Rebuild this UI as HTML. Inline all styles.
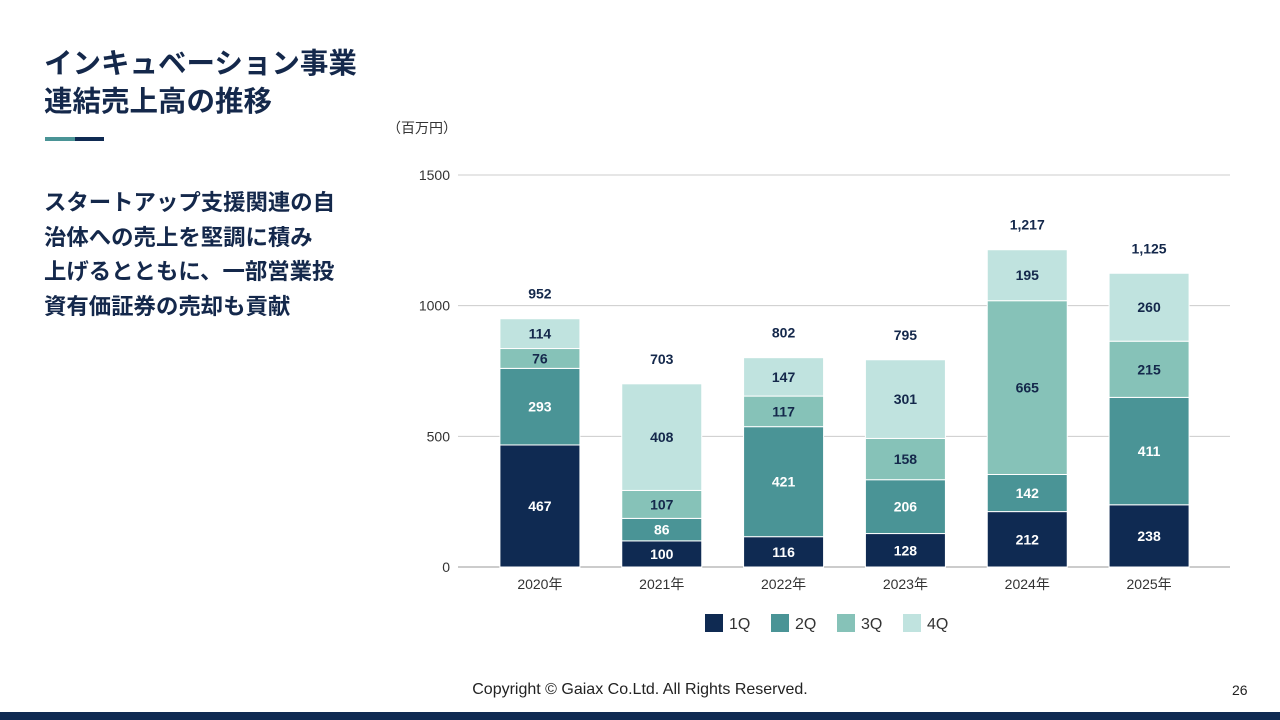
<!DOCTYPE html>
<html><head><meta charset="utf-8">
<style>
body{margin:0;width:1280px;height:720px;background:#fff;position:relative;overflow:hidden;font-family:"Liberation Sans","Noto Sans CJK JP",sans-serif;color:#14284b}
.abs{position:absolute}
</style></head><body>
<div class="abs" style="left:44px;top:45px;font-size:28.5px;font-weight:bold;line-height:38px;color:#14284b">インキュベーション事業<br>連結売上高の推移</div>
<div class="abs" style="left:45px;top:137px;width:30px;height:4px;background:#4a9496"></div>
<div class="abs" style="left:75px;top:137px;width:29px;height:4px;background:#0f2a52"></div>
<div class="abs" style="left:44px;top:186px;font-size:22.4px;font-weight:bold;line-height:34.5px;color:#14284b;white-space:nowrap">スタートアップ支援関連の自<br>治体への売上を堅調に積み<br>上げるとともに、一部営業投<br>資有価証券の売却も貢献</div>
<svg class="abs" style="left:0;top:0" width="1280" height="720" id="chart"></svg>
<div class="abs" style="left:0;width:1280px;top:681px;text-align:center;font-size:16px;color:#222">Copyright © Gaiax Co.Ltd. All Rights Reserved.</div>
<div class="abs" style="left:1232px;top:682px;font-size:14px;color:#222">26</div>
<div class="abs" style="left:0;top:712px;width:1280px;height:8px;background:#0f2a52"></div>
<script>
const categories=["2020年","2021年","2022年","2023年","2024年","2025年"];
const q1=[467,100,116,128,212,238];
const q2=[293,86,421,206,142,411];
const q3=[76,107,117,158,665,215];
const q4=[114,408,147,301,195,260];
const totals=["952","703","802","795","1,217","1,125"];
const yTicks=[0,500,1000,1500];
const seriesNames=["1Q","2Q","3Q","4Q"];
const colors=["#0f2a52","#4a9496","#86c2b8","#c0e3df"];
const textColors=["#fff","#fff","#14284b","#14284b"];
const svg=document.getElementById('chart');const NS="http://www.w3.org/2000/svg";
const x0=458,x1=1230,y0=567,y1=175,yMax=1500;
const bandStart=479,bandEnd=1210;
const y=v=>y0-(v/yMax)*(y0-y1);
const step=(bandEnd-bandStart)/categories.length;
const cx=i=>bandStart+step*(i+0.5);
const bw=80;
function mk(t,a){const e=document.createElementNS(NS,t);for(const k in a)e.setAttribute(k,a[k]);svg.appendChild(e);return e;}
let l=mk('text',{x:387,y:133,'font-size':14,fill:'#333'});l.textContent='（百万円）';


yTicks.forEach(t=>{
 const g=mk('line',{x1:x0,x2:x1,y1:y(t),y2:y(t),stroke:t===0?'#999':'#ccc','stroke-width':1});
 
 
 const tx=mk('text',{x:450,y:y(t)+5,'text-anchor':'end','font-size':14,fill:'#333'});tx.textContent=t;
 
 
});
const series=[q1,q2,q3,q4];
categories.forEach((c,i)=>{
 let acc=0;
 series.forEach((s,k)=>{
  const v=s[i];const top=y(acc+v),bot=y(acc);
  const r=mk('rect',{x:cx(i)-bw/2,y:top,width:bw,height:bot-top,fill:colors[k],stroke:'#fff','stroke-width':1});
  
  
  const t=mk('text',{x:cx(i),y:(top+bot)/2+5,'text-anchor':'middle','font-size':14,'font-weight':'bold',fill:textColors[k]});t.textContent=v;
  
  
  acc+=v;
 });
 const tt=mk('text',{x:cx(i),y:y(acc)-20,'text-anchor':'middle','font-size':14,'font-weight':'bold',fill:'#14284b'});tt.textContent=totals[i];
 
 
 const xl=mk('text',{x:cx(i),y:589,'text-anchor':'middle','font-size':14,fill:'#333'});xl.textContent=c;
 
 
});
seriesNames.forEach((n,k)=>{
 const lx=705+k*66;
 const r=mk('rect',{x:lx,y:614,width:18,height:18,fill:colors[k]});
 
 
 const t=mk('text',{x:lx+24,y:629,'font-size':16,fill:'#333'});t.textContent=n;
 
 
});
</script>
</body></html>
